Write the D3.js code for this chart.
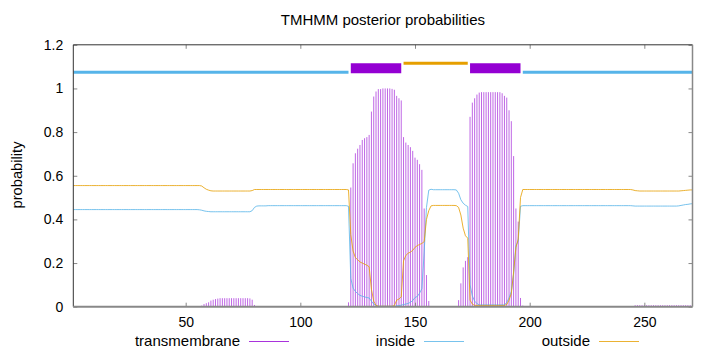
<!DOCTYPE html>
<html><head><meta charset="utf-8">
<script src="https://cdn.jsdelivr.net/npm/d3@7"></script>
<style>
html,body{margin:0;padding:0;background:#fff;}
svg{display:block;}
text{font-family:"Liberation Sans",Arial,sans-serif;fill:#000;}
</style></head>
<body><svg id="c" width="720" height="352"></svg>
<script>
// ---- data (per residue, residue 1..271) ----
const title = "TMHMM posterior probabilities";
const yLabel = "probability";
const xTicks = [50, 100, 150, 200, 250];
const yTicks = [0, 0.2, 0.4, 0.6, 0.8, 1, 1.2];
const seqLength = 271;
const seriesNames = ["transmembrane", "inside", "outside"];

// predicted topology segments
const segType  = ["inside", "TMhelix", "outside", "TMhelix", "inside"];
const segStart = [1, 122, 145, 174, 197];
const segEnd   = [121, 144, 173, 196, 271];
const segLevel = {inside: 1.074, TMhelix: 1.093, outside: 1.115};

const tmProb = [
 0,0,0,0,0,0,0,0,0,0,
 0,0,0,0,0,0,0,0,0,0,
 0,0,0,0,0,0,0,0,0,0,
 0,0,0,0,0,0,0,0,0,0,
 0,0,0,0,0,0,0,0,0,0,
 0,0,0,0,0,0,.005,.012,.016,.02,
 .028,.032,.035,.037,.039,.039,.039,.039,.039,.039,
 .039,.039,.039,.039,.039,.039,.039,.038,.032,.008,
 .002,.002,.002,.002,.002,.001,.001,.001,.001,.001,
 .001,.001,.001,.001,.001,.001,.001,.001,.001,.001,
 .001,.001,.001,.001,.001,.001,.001,.001,.001,.001,
 .001,.001,.001,.001,.001,.001,.001,.001,.001,.003,
 .02,.546,.657,.703,.724,.741,.764,.772,.777,.787,
 .894,.963,.986,.997,.997,1.0,1.0,1.0,1.0,.998,
 .994,.966,.955,.945,.777,.752,.741,.731,.714,.683,
 .673,.653,.627,.45,.145,.026,0,0,0,0,
 0,0,0,0,0,0,0,0,.03,.107,
 .18,.21,.227,.87,.935,.955,.972,.981,.983,.983,
 .983,.983,.983,.983,.983,.983,.983,.978,.966,.958,
 .90,.85,.69,.45,.39,.04,.005,0,0,0,
 0,0,0,0,0,0,0,0,0,0,
 0,0,0,0,0,0,0,0,0,0,
 0,0,0,0,0,0,0,0,0,0,
 0,0,0,0,0,0,0,0,0,0,
 0,0,0,0,0,.007,.007,.007,.007,.007,
 .007,.007,.007,.007,.007,.007,.007,.007,.007,.007,
 .007,.007,.007,.007,.007,.007,.007,.007,.007,.007,
 0
];

const insideProb = [
 .445,.445,.445,.445,.445,.445,.445,.445,.445,.445,
 .445,.445,.445,.445,.445,.445,.445,.445,.445,.445,
 .445,.445,.445,.445,.445,.445,.445,.445,.445,.445,
 .445,.445,.445,.445,.445,.445,.445,.445,.445,.445,
 .445,.445,.445,.445,.445,.445,.445,.445,.445,.445,
 .445,.445,.445,.445,.445,.444,.442,.439,.437,.436,
 .435,.435,.435,.435,.435,.435,.435,.435,.435,.435,
 .435,.435,.435,.435,.435,.435,.435,.435,.440,.455,
 .461,.462,.462,.462,.462,.463,.463,.463,.463,.463,
 .463,.463,.463,.463,.463,.463,.463,.463,.463,.463,
 .463,.463,.463,.463,.463,.463,.463,.463,.463,.463,
 .463,.463,.463,.463,.463,.463,.463,.463,.463,.463,
 .46,.13,.085,.07,.06,.052,.048,.045,.042,.04,
 .025,.012,.006,.002,.002,.002,.002,.002,.002,.002,
 .002,.004,.005,.007,.01,.012,.015,.02,.028,.042,
 .047,.062,.083,.25,.455,.534,.538,.536,.536,.536,
 .536,.536,.536,.536,.536,.536,.536,.535,.52,.49,
 .474,.465,.459,.10,.05,.025,.015,.008,.008,.008,
 .008,.008,.008,.008,.008,.008,.008,.008,.008,.02,
 .04,.07,.15,.28,.30,.46,.463,.463,.463,.463,
 .463,.463,.463,.463,.463,.463,.463,.463,.463,.463,
 .463,.463,.463,.463,.463,.463,.463,.463,.463,.463,
 .463,.463,.463,.463,.463,.463,.463,.463,.463,.463,
 .463,.463,.463,.463,.463,.463,.463,.463,.463,.463,
 .463,.463,.463,.463,.462,.461,.461,.461,.461,.461,
 .461,.461,.461,.461,.461,.461,.461,.461,.461,.461,
 .461,.461,.461,.461,.462,.464,.466,.468,.469,.471,
 .472
];

const outsideProb = [
 .555,.555,.555,.555,.555,.555,.555,.555,.555,.555,
 .555,.555,.555,.555,.555,.555,.555,.555,.555,.555,
 .555,.555,.555,.555,.555,.555,.555,.555,.555,.555,
 .555,.555,.555,.555,.555,.555,.555,.555,.555,.555,
 .555,.555,.555,.555,.555,.555,.555,.555,.555,.555,
 .555,.555,.555,.555,.555,.555,.553,.545,.538,.534,
 .531,.530,.530,.530,.530,.530,.530,.530,.530,.530,
 .530,.530,.530,.530,.530,.530,.530,.530,.532,.537,
 .537,.537,.537,.537,.537,.537,.537,.537,.537,.537,
 .537,.537,.537,.537,.537,.537,.537,.537,.537,.537,
 .537,.537,.537,.537,.537,.537,.537,.537,.537,.537,
 .537,.537,.537,.537,.537,.537,.537,.537,.537,.537,
 .535,.33,.255,.225,.215,.205,.200,.195,.19,.183,
 .08,.025,.006,.002,.002,.002,.002,.002,.002,.002,
 .005,.03,.035,.045,.21,.235,.245,.25,.258,.272,
 .28,.285,.29,.298,.40,.44,.462,.464,.464,.464,
 .464,.464,.464,.464,.464,.464,.464,.463,.455,.42,
 .36,.325,.314,.03,.012,.006,.006,.006,.006,.006,
 .006,.006,.006,.006,.006,.006,.006,.006,.006,.01,
 .03,.06,.16,.27,.31,.50,.537,.537,.537,.537,
 .537,.537,.537,.537,.537,.537,.537,.537,.537,.537,
 .537,.537,.537,.537,.537,.537,.537,.537,.537,.537,
 .537,.537,.537,.537,.537,.537,.537,.537,.537,.537,
 .537,.537,.537,.537,.537,.537,.537,.537,.537,.537,
 .537,.537,.537,.537,.535,.532,.531,.530,.530,.530,
 .530,.530,.530,.530,.530,.530,.530,.530,.530,.530,
 .530,.530,.530,.530,.530,.531,.532,.533,.534,.535,
 .535
];

// ---- drawing ----
const colors = {transmembrane: "#9400d3", inside: "#56b4e9", outside: "#e69f00", TMhelix: "#9400d3"};
const svg = d3.select("#c");
const L = 73.3, R = 692.5, T = 44.8, B = 306.7;
const x = d3.scaleLinear().domain([1, seqLength]).range([L, R]);
const y = d3.scaleLinear().domain([0, 1.2]).range([B, T]);
const residues = d3.range(1, seqLength + 1);

const plot = svg.append("g");
svg.append("clipPath").attr("id", "clip").append("rect")
  .attr("x", L).attr("y", T).attr("width", R - L).attr("height", B - T);

// topology bars
const topo = plot.append("g").attr("clip-path", "url(#clip)");
segType.forEach((t, i) => {
  topo.append("line")
    .attr("x1", x(segStart[i])).attr("x2", x(segEnd[i]))
    .attr("y1", y(segLevel[t])).attr("y2", y(segLevel[t]))
    .attr("stroke", colors[t])
    .attr("stroke-width", t === "TMhelix" ? 10 : 3)
    .attr("stroke-linecap", "butt");
});

// impulses for transmembrane
plot.append("g").selectAll("line")
  .data(residues.filter(r => tmProb[r - 1] > 0))
  .join("line")
  .attr("x1", r => x(r)).attr("x2", r => x(r))
  .attr("y1", y(0)).attr("y2", r => y(tmProb[r - 1]))
  .attr("stroke", colors.transmembrane)
  .attr("stroke-width", 1)
  .attr("stroke-opacity", 0.6);

const line = d3.line().x(d => x(d[0])).y(d => y(d[1]));
plot.append("path")
  .attr("d", line(residues.map(r => [r, insideProb[r - 1]])))
  .attr("fill", "none").attr("stroke", colors.inside).attr("stroke-width", 1).attr("stroke-opacity", 0.8);
plot.append("path")
  .attr("d", line(residues.map(r => [r, outsideProb[r - 1]])))
  .attr("fill", "none").attr("stroke", colors.outside).attr("stroke-width", 1).attr("stroke-opacity", 0.8);

// axes (gnuplot-like, ticks inward, mirrored)
const tickLen = 4;
const fmtY = d3.format("~g");
const axB = svg.append("g").attr("transform", `translate(0,${B})`)
  .call(d3.axisBottom(x).tickValues(xTicks).tickSize(-tickLen).tickPadding(10).tickFormat(d3.format("d")));
const axT = svg.append("g").attr("transform", `translate(0,${T})`)
  .call(d3.axisTop(x).tickValues(xTicks).tickSize(-tickLen).tickFormat(""));
const axL = svg.append("g").attr("transform", `translate(${L},0)`)
  .call(d3.axisLeft(y).tickValues(yTicks).tickSize(-tickLen).tickPadding(10).tickFormat(fmtY));
const axR = svg.append("g").attr("transform", `translate(${R},0)`)
  .call(d3.axisRight(y).tickValues(yTicks).tickSize(-tickLen).tickFormat(""));
[axB, axT, axL, axR].forEach(a => {
  a.select(".domain").remove();
  a.selectAll(".tick line").attr("stroke", "#888");
  a.selectAll("text").attr("font-size", 14).attr("font-family", '"Liberation Sans",Arial,sans-serif');
});
// border
svg.append("line").attr("x1", L).attr("x2", R).attr("y1", T).attr("y2", T).attr("stroke", "#333");
svg.append("line").attr("x1", L).attr("x2", L).attr("y1", T).attr("y2", B).attr("stroke", "#333");
svg.append("line").attr("x1", L).attr("x2", R).attr("y1", B).attr("y2", B).attr("stroke", "#888").attr("stroke-width", 2);
svg.append("line").attr("x1", R).attr("x2", R).attr("y1", T).attr("y2", B).attr("stroke", "#888").attr("stroke-width", 1.5);

// title & labels
svg.append("text").attr("x", (L + R) / 2).attr("y", 25).attr("text-anchor", "middle")
  .attr("font-size", 15).text(title);
svg.append("text").attr("transform", `translate(22,175) rotate(-90)`).attr("text-anchor", "middle")
  .attr("font-size", 14.7).text(yLabel);

// legend
const legX = [240, 415, 590];
seriesNames.forEach((n, i) => {
  svg.append("text").attr("x", legX[i]).attr("y", 346).attr("text-anchor", "end")
    .attr("font-size", 15).text(n);
  svg.append("line").attr("x1", legX[i] + 9).attr("x2", legX[i] + 49)
    .attr("y1", 341.5).attr("y2", 341.5)
    .attr("stroke", colors[n]).attr("stroke-width", 1).attr("stroke-opacity", 0.8);
});
</script></body></html>
